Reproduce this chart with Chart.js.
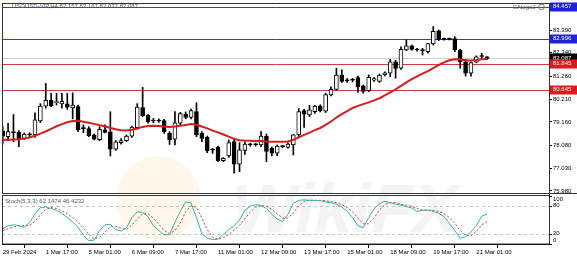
<!DOCTYPE html>
<html>
<head>
<meta charset="utf-8">
<script src="https://cdn.jsdelivr.net/npm/chart.js@4.4.0/dist/chart.umd.min.js"></script>
<style>
  html, body { margin: 0; padding: 0; background: #fff; }
  canvas { display: block; }
</style>
</head>
<body>
<canvas id="chart" width="577" height="260"></canvas>
<script>
// H4 bars, 29 Feb 2024 -> 21 Mar 2024
var timeLabels = ["29 Feb 2024", "1 Mar 17:00", "5 Mar 01:00", "6 Mar 09:00", "7 Mar 17:00", "11 Mar 01:00",
  "12 Mar 09:00", "13 Mar 17:00", "15 Mar 01:00", "18 Mar 09:00", "19 Mar 17:00", "21 Mar 01:00"];

var opens = [78.75, 78.48, 78.71, 78.68, 78.40, 78.56, 78.56, 79.20, 79.88, 80.15,
  80.05, 79.99, 79.99, 79.80, 79.86, 78.87, 78.85, 78.56, 78.34, 78.80,
  78.70, 77.90, 78.20, 78.30, 78.50, 78.90, 79.82, 79.47, 79.20, 79.22,
  79.22, 78.64, 78.36, 79.10, 79.52, 79.37, 79.63, 78.63, 78.45, 77.88,
  77.99, 77.38, 77.59, 78.25, 77.22, 77.85, 78.10, 78.11, 78.10, 78.51,
  77.95, 77.72, 78.03, 77.99, 78.10, 78.56, 79.68, 79.48, 79.63, 79.89,
  79.65, 80.40, 80.66, 81.32, 81.05, 81.08, 81.20, 80.82, 80.60, 81.08,
  81.02, 81.32, 81.40, 81.93, 81.63, 82.47, 82.66, 82.48, 82.45, 82.39,
  82.75, 83.35, 82.97, 82.96, 83.00, 82.47, 81.93, 81.40, 81.91, 82.17, 82.157];
var highs = [78.95, 79.09, 79.50, 78.76, 78.65, 78.66, 79.58, 80.00, 80.93, 80.48,
  80.47, 80.47, 80.47, 80.50, 79.94, 79.02, 78.94, 78.60, 78.94, 79.02,
  79.63, 78.30, 78.39, 78.56, 78.97, 80.00, 80.75, 79.50, 79.32, 79.30,
  79.28, 78.71, 79.63, 79.60, 79.62, 79.75, 80.04, 78.71, 78.51, 77.94,
  78.05, 77.52, 78.33, 78.40, 78.20, 78.24, 78.18, 78.18, 78.71, 78.60,
  78.00, 78.10, 78.08, 78.20, 78.58, 79.78, 79.74, 79.92, 79.92, 79.95,
  80.48, 80.78, 81.63, 81.56, 81.15, 81.16, 81.27, 80.86, 81.32, 81.20,
  81.36, 81.46, 82.04, 82.00, 82.62, 82.93, 82.70, 82.55, 82.55, 82.78,
  83.55, 83.39, 83.02, 83.02, 83.08, 82.50, 82.04, 81.93, 82.20, 82.32, 82.167];
var lows = [78.15, 78.30, 78.25, 78.02, 78.35, 78.48, 78.45, 79.13, 79.79, 79.86,
  79.94, 79.79, 79.74, 79.30, 78.71, 78.66, 78.48, 78.33, 78.30, 78.65,
  77.59, 77.85, 78.14, 78.25, 78.45, 78.83, 79.40, 79.10, 79.12, 79.14,
  78.63, 78.12, 78.10, 79.00, 79.30, 79.30, 78.48, 78.25, 77.74, 77.71,
  77.33, 77.33, 77.53, 76.80, 76.87, 77.66, 78.04, 78.05, 78.02, 77.33,
  77.60, 77.60, 77.97, 77.95, 77.64, 78.48, 78.91, 79.40, 79.55, 79.62,
  79.59, 80.36, 80.63, 80.97, 80.98, 81.00, 80.52, 80.48, 80.55, 81.02,
  80.98, 81.28, 81.24, 81.17, 81.58, 82.44, 82.46, 82.42, 82.24, 82.32,
  82.70, 82.90, 82.92, 82.93, 82.39, 81.63, 81.27, 81.27, 81.88, 82.10, 82.037];
var closes = [78.50, 78.71, 78.65, 78.37, 78.60, 78.57, 79.25, 79.89, 80.15, 79.90,
  80.09, 80.11, 79.84, 79.94, 78.80, 78.85, 78.51, 78.36, 78.82, 78.68,
  77.90, 78.24, 78.30, 78.51, 78.92, 79.84, 79.45, 79.17, 79.22, 79.20,
  78.71, 78.34, 79.12, 79.54, 79.37, 79.68, 78.56, 78.40, 77.82, 77.86,
  77.38, 77.48, 78.21, 77.22, 77.88, 78.14, 78.11, 78.13, 78.51, 77.80,
  77.72, 78.05, 78.02, 78.14, 78.56, 79.63, 79.52, 79.71, 79.89, 79.68,
  80.42, 80.66, 81.32, 81.02, 81.07, 81.10, 80.77, 80.56, 81.21, 81.15,
  81.32, 81.42, 81.93, 81.62, 82.50, 82.66, 82.50, 82.47, 82.44, 82.76,
  83.33, 82.96, 82.96, 82.97, 82.47, 81.93, 81.40, 81.89, 82.16, 82.19, 82.087];

// red moving average
var maValues = [78.33, 78.34, 78.35, 78.36, 78.39, 78.44, 78.52, 78.62, 78.72, 78.84,
  78.96, 79.06, 79.14, 79.20, 79.21, 79.17, 79.12, 79.07, 79.01, 78.96,
  78.88, 78.82, 78.78, 78.76, 78.80, 78.86, 78.93, 78.97, 78.98, 78.97,
  78.95, 78.93, 78.95, 78.98, 79.02, 79.06, 79.03, 78.95, 78.86, 78.76,
  78.68, 78.58, 78.48, 78.38, 78.32, 78.30, 78.29, 78.28, 78.28, 78.26,
  78.25, 78.25, 78.25, 78.26, 78.34, 78.45, 78.56, 78.67, 78.78, 78.88,
  79.02, 79.18, 79.36, 79.52, 79.66, 79.80, 79.90, 79.98, 80.06, 80.15,
  80.25, 80.38, 80.52, 80.66, 80.82, 80.98, 81.13, 81.26, 81.38, 81.50,
  81.64, 81.78, 81.90, 82.00, 82.04, 82.03, 82.00, 81.99, 82.01, 82.04, 82.06];

// Stoch(5,3,3) main and signal
var stochMain = [32, 38, 40, 38, 35, 45, 62, 76, 77, 74,
  70, 64, 55, 46, 35, 18, 7, 8, 28, 40,
  41, 30, 27, 34, 55, 67, 66, 57, 38, 28,
  19, 20, 45, 68, 88, 85, 55, 22, 12, 9,
  10, 20, 30, 38, 50, 70, 79, 82, 80, 74,
  62, 52, 47, 62, 85, 91, 92, 91, 91, 90,
  88, 86, 83, 77, 68, 55, 38, 34, 55, 73,
  84, 89, 86, 83, 81, 78, 75, 68, 70, 71,
  68, 64, 57, 43, 28, 12, 15, 25, 38, 58, 62.1474];
var stochSignal = [28, 32, 35, 38, 38, 39, 47, 61, 72, 76,
  74, 69, 63, 55, 45, 33, 20, 11, 14, 25,
  36, 37, 33, 30, 39, 52, 63, 63, 54, 41,
  28, 22, 28, 44, 67, 80, 76, 54, 30, 14,
  10, 13, 20, 29, 39, 53, 66, 77, 80, 79,
  72, 63, 54, 54, 65, 79, 89, 91, 91, 91,
  90, 88, 86, 82, 76, 67, 54, 42, 42, 54,
  71, 82, 86, 86, 83, 81, 78, 74, 71, 70,
  70, 68, 63, 55, 43, 28, 18, 17, 26, 40, 46.4232];

var priceTicks = [75.980, 77.030, 78.080, 79.160, 80.210, 81.260, 82.340, 83.390];
var levelPrices = [84.457, 82.996, 81.845, 80.645];
var levelColors = ["#3a3ac8", "#3a3ac8", "#d43a3a", "#d43a3a"];
var stochLevels = [20, 80];
var lastPrice = 82.087;

var FONT = "'Liberation Sans', Arial, sans-serif";
var idx = opens.map(function (v, i) { return i; });

var mt4Plugin = {
  id: "mt4",
  beforeDatasetsDraw: function (chart) {
    var c = chart.ctx, a = chart.chartArea, y = chart.scales.y, y2 = chart.scales.y2;
    c.save();
    // watermark
    c.fillStyle = "rgba(245, 200, 110, 0.13)";
    c.beginPath(); c.arc(158, 198, 42, 0, Math.PI * 2); c.fill();
    c.font = "italic bold 68px " + FONT;
    c.fillStyle = "rgba(120, 120, 120, 0.08)";
    c.textBaseline = "alphabetic";
    c.fillText("WikiFX", 232, 232);
    // bid line
    c.strokeStyle = "#d0d0d0"; c.lineWidth = 1;
    var py = Math.round(y.getPixelForValue(lastPrice)) + 0.5;
    c.beginPath(); c.moveTo(a.left, py); c.lineTo(a.right, py); c.stroke();
    // horizontal levels
    levelPrices.forEach(function (p, k) {
      var ly = Math.round(y.getPixelForValue(p)) + 0.5;
      c.strokeStyle = levelColors[k];
      c.beginPath(); c.moveTo(a.left, ly); c.lineTo(a.right, ly); c.stroke();
    });
    // stoch levels
    c.strokeStyle = "#c4c4c4"; c.setLineDash([3, 3]);
    stochLevels.forEach(function (v) {
      var sy = Math.round(y2.getPixelForValue(v)) + 0.5;
      c.beginPath(); c.moveTo(a.left, sy); c.lineTo(a.right, sy); c.stroke();
    });
    c.restore();
  },
  afterDraw: function (chart) {
    var c = chart.ctx, a = chart.chartArea, y = chart.scales.y, y2 = chart.scales.y2;
    c.save();
    // panel separators and frame
    c.fillStyle = "#ffffff";
    c.fillRect(a.left, 193, a.right - a.left, 3);
    c.strokeStyle = "#333"; c.lineWidth = 1;
    c.strokeRect(a.left + 0.5, a.top + 0.5, a.right - a.left, 190);
    c.strokeRect(a.left + 0.5, 195.5, a.right - a.left, a.bottom - 195.5);
    c.beginPath(); c.moveTo(a.right, 193.5); c.lineTo(577, 193.5); c.stroke();

    c.font = "6px " + FONT;
    c.textBaseline = "middle";
    // titles
    c.fillStyle = "#555";
    c.fillText("USOUSD-VIP,H4 82.157 82.167 82.037 82.087", 12, 6.5);
    c.fillText("Stoch(5,3,3) 62.1474 46.4232", 5, 201);
    c.fillText("EAlogo2", 513, 7);
    c.strokeStyle = "#777";
    c.beginPath(); c.arc(541.5, 7, 2.8, 0, Math.PI * 2); c.stroke();

    // stoch axis labels
    c.fillStyle = "#000"; c.strokeStyle = "#000";
    [[100, 199], [80, 205], [20, 233], [0, 240]].forEach(function (s) {
      var ty = Math.round(y2.getPixelForValue(s[0])) + 0.5;
      c.beginPath(); c.moveTo(a.right, ty); c.lineTo(a.right + 3, ty); c.stroke();
      c.fillText(String(s[0]), 553, s[1]);
    });

    // price boxes
    function box(p, fill) {
      var by = y.getPixelForValue(p);
      c.fillStyle = fill;
      c.fillRect(a.right + 1, Math.round(by) - 4.5, 27, 9);
      c.fillStyle = "#fff";
      c.fillText(p.toFixed(3), 553, by);
    }
    box(lastPrice, "#000");
    levelPrices.forEach(function (p, k) {
      box(p, k < 2 ? "#2020e0" : "#e01a1a");
    });
    c.restore();
  }
};

new Chart(document.getElementById("chart"), {
  type: "bar",
  data: {
    datasets: [
      {
        type: "line",
        label: "MA",
        data: idx.map(function (i) { return { x: i, y: maValues[i] }; }),
        yAxisID: "y",
        borderColor: "#d81c1c",
        borderWidth: 2,
        pointRadius: 0,
        order: 0
      },
      {
        label: "body",
        data: idx.map(function (i) { return { x: i, y: [opens[i], closes[i]] }; }),
        yAxisID: "y",
        backgroundColor: function (ctx) {
          var i = ctx.dataIndex;
          return closes[i] - opens[i] > 0.02 ? "#ffffff" : "#000000";
        },
        borderColor: "#000",
        borderWidth: 1,
        borderSkipped: false,
        barThickness: 4,
        minBarLength: 1,
        grouped: false,
        order: 1
      },
      {
        label: "wick",
        data: idx.map(function (i) { return { x: i, y: [lows[i], highs[i]] }; }),
        yAxisID: "y",
        backgroundColor: "#000",
        barThickness: 1,
        grouped: false,
        order: 2
      },
      {
        type: "line",
        label: "Main",
        data: idx.map(function (i) { return { x: i, y: stochMain[i] }; }),
        yAxisID: "y2",
        borderColor: "#2bb5a5",
        borderWidth: 1,
        pointRadius: 0,
        order: 0
      },
      {
        type: "line",
        label: "Signal",
        data: idx.map(function (i) { return { x: i, y: stochSignal[i] }; }),
        yAxisID: "y2",
        borderColor: "#e03030",
        borderWidth: 1,
        borderDash: [2, 2],
        pointRadius: 0,
        order: 0
      }
    ]
  },
  options: {
    responsive: false,
    animation: false,
    devicePixelRatio: 1,
    layout: { padding: { top: 3, left: 2, right: 0, bottom: 0 } },
    plugins: { legend: { display: false }, tooltip: { enabled: false } },
    scales: {
      x: {
        type: "linear",
        min: -0.13,
        max: 101.5,
        offset: false,
        afterBuildTicks: function (s) {
          s.ticks = timeLabels.map(function (t, k) { return { value: k * 8 }; });
        },
        afterFit: function (s) { s.height = 16; s.paddingLeft = 0; s.paddingRight = 0; },
        ticks: {
          autoSkip: false, maxRotation: 0, align: "start", padding: 1, color: "#000",
          font: { family: FONT, size: 6 },
          callback: function (v) { return timeLabels[v / 8]; }
        },
        grid: { drawOnChartArea: false, tickLength: 4, color: "#000" },
        border: { color: "#000" }
      },
      y: {
        type: "linear",
        position: "right",
        min: 73.54,
        max: 84.633,
        afterBuildTicks: function (s) {
          s.ticks = priceTicks.map(function (v) { return { value: v }; });
        },
        afterFit: function (s) { s.width = 28; s.paddingTop = 0; s.paddingBottom = 0; },
        ticks: {
          padding: 1, color: "#000",
          font: { family: FONT, size: 6 },
          callback: function (v) { return v.toFixed(3); }
        },
        grid: { drawOnChartArea: false, tickLength: 3, color: "#000" },
        border: { color: "#000" }
      },
      y2: {
        type: "linear",
        display: false,
        min: 0,
        max: 502
      }
    }
  },
  plugins: [mt4Plugin]
});
</script>
</body>
</html>
